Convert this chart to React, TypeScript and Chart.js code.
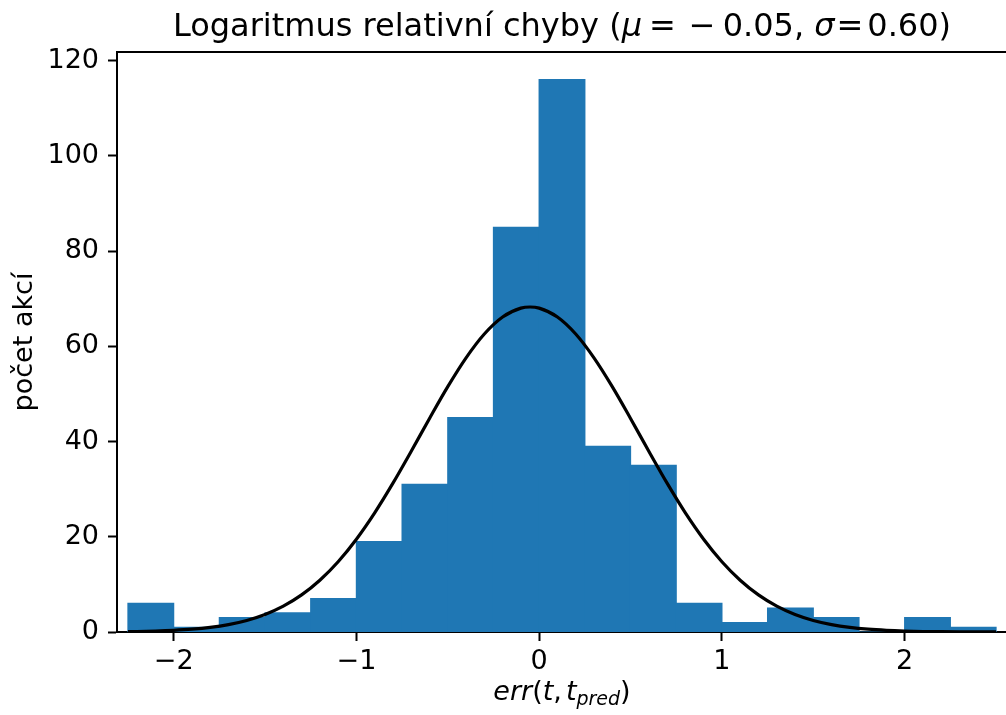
import React, { useEffect, useRef } from "react";
import { Chart, registerables } from "chart.js";

Chart.register(...registerables);

// Histogram bins (left edges) and counts
const BIN_LEFT = [-2.25, -2.0, -1.75, -1.5, -1.25, -1.0, -0.75, -0.5, -0.25, 0, 0.25, 0.5, 0.75, 1.0, 1.25, 1.5, 1.75, 2.0, 2.25];
const COUNTS = [6, 1, 3, 4, 7, 19, 31, 45, 85, 116, 39, 35, 6, 2, 5, 3, 0, 3, 1];
const BIN_WIDTH = 0.25;

// Fitted normal curve
const CURVE_X = [-2.25, -2.2, -2.1, -2.0, -1.9, -1.8, -1.7, -1.6, -1.5, -1.4, -1.3, -1.2, -1.1, -1.0, -0.9, -0.8, -0.7, -0.6, -0.5, -0.4, -0.3, -0.2, -0.1, -0.05, 0, 0.1, 0.2, 0.3, 0.4, 0.5, 0.6, 0.7, 0.8, 0.9, 1.0, 1.1, 1.2, 1.3, 1.4, 1.5, 1.6, 1.7, 1.8, 1.9, 2.0, 2.1, 2.2, 2.3, 2.4, 2.5];
const CURVE_Y = [0.08, 0.11, 0.2, 0.35, 0.59, 0.97, 1.56, 2.43, 3.68, 5.43, 7.79, 10.87, 14.76, 19.49, 25.02, 31.25, 37.95, 44.84, 51.52, 57.57, 62.58, 66.15, 68.01, 68.25, 68.01, 66.15, 62.58, 57.57, 51.52, 44.84, 37.95, 31.25, 25.02, 19.49, 14.76, 10.87, 7.79, 5.43, 3.68, 2.43, 1.56, 0.97, 0.59, 0.35, 0.2, 0.11, 0.06, 0.03, 0.02, 0.01];

const X_TICKS = [-2, -1, 0, 1, 2];
const X_TICK_LABELS = ["\u22122", "\u22121", "0", "1", "2"];
const Y_TICKS = [0, 20, 40, 60, 80, 100, 120];

const TITLE_PARTS = [
  { text: "Logaritmus relativní chyby (", italic: false, gap: 0 },
  { text: "μ", italic: true, gap: 0 },
  { text: "=", italic: false, gap: 7 },
  { text: "\u2212", italic: false, gap: 13 },
  { text: "0.05, ", italic: false, gap: 7 },
  { text: "σ", italic: true, gap: 0 },
  { text: "=", italic: false, gap: 2 },
  { text: "0.60)", italic: false, gap: 4 },
];
const Y_LABEL = "počet akcí";

const FONT = '"DejaVu Sans"';
const TICK_SIZE = 27;
const TITLE_SIZE = 32;
const LABEL_SIZE = 27;

type Seg = { text: string; size: number; italic?: boolean; dy?: number; gap?: number };

function drawSegs(ctx: CanvasRenderingContext2D, segs: Seg[], cx: number, baseline: number) {
  let total = 0;
  const widths: number[] = [];
  for (const s of segs) {
    ctx.font = `${s.italic ? "italic " : ""}${s.size}px ${FONT}`;
    const w = ctx.measureText(s.text).width;
    widths.push(w);
    total += w + (s.gap || 0);
  }
  let x = cx - total / 2;
  ctx.textAlign = "left";
  ctx.textBaseline = "alphabetic";
  segs.forEach((s, i) => {
    x += s.gap || 0;
    ctx.font = `${s.italic ? "italic " : ""}${s.size}px ${FONT}`;
    ctx.fillText(s.text, x, baseline + (s.dy || 0));
    x += widths[i];
  });
}

const framePlugin = {
  id: "frame",
  afterDraw(chart: any) {
    const { ctx, chartArea } = chart;
    const { left, right, top, bottom } = chartArea;
    ctx.save();
    ctx.strokeStyle = "#000";
    ctx.lineWidth = 2;
    ctx.beginPath();
    ctx.moveTo(left - 1, top);
    ctx.lineTo(right, top);
    ctx.lineTo(right, bottom);
    ctx.stroke();
    ctx.fillStyle = "#000";
    // title
    drawSegs(
      ctx,
      TITLE_PARTS.map((p) => ({ text: p.text, size: TITLE_SIZE, italic: p.italic, gap: p.gap })),
      (left + right) / 2,
      36
    );
    // x label
    drawSegs(
      ctx,
      [
        { text: "err", size: LABEL_SIZE, italic: true },
        { text: "(", size: LABEL_SIZE },
        { text: "t", size: LABEL_SIZE, italic: true },
        { text: ",", size: LABEL_SIZE },
        { text: "t", size: LABEL_SIZE, italic: true, gap: 4 },
        { text: "pred", size: 19, italic: true, dy: 5 },
        { text: ")", size: LABEL_SIZE },
      ],
      (left + right) / 2,
      700
    );
    // y label
    ctx.translate(32, (top + bottom) / 2);
    ctx.rotate(-Math.PI / 2);
    ctx.font = `${LABEL_SIZE}px ${FONT}`;
    ctx.textAlign = "center";
    ctx.textBaseline = "alphabetic";
    ctx.fillText(Y_LABEL, 0, 0);
    ctx.restore();
  },
};

export default function App() {
  const ref = useRef<HTMLCanvasElement | null>(null);

  useEffect(() => {
    const canvas = ref.current;
    if (!canvas) return;
    const chart = new Chart(canvas, {
      type: "bar",
      data: {
        datasets: [
          {
            type: "line",
            data: CURVE_X.map((x, i) => ({ x, y: CURVE_Y[i] })),
            borderColor: "#000000",
            borderWidth: 3.2,
            pointRadius: 0,
            cubicInterpolationMode: "monotone",
            fill: false,
            order: 0,
          } as any,
          {
            type: "bar",
            data: BIN_LEFT.map((l, i) => ({ x: l + BIN_WIDTH / 2, y: COUNTS[i] })),
            backgroundColor: "#1f77b4",
            borderWidth: 0,
            inflateAmount: 0.6,
            barPercentage: 1,
            categoryPercentage: 1,
            order: 1,
          } as any,
        ],
      },
      options: {
        animation: false,
        responsive: false,
        devicePixelRatio: 1,
        layout: { padding: { left: 0, right: 5, top: 52, bottom: 0 } },
        plugins: { legend: { display: false }, tooltip: { enabled: false }, title: { display: false } },
        scales: {
          x: {
            type: "linear",
            min: -2.31,
            max: 2.56,
            offset: false,
            grid: { display: true, offset: false, drawOnChartArea: false, drawTicks: true, tickLength: 9, tickWidth: 2, tickColor: "#000" },
            border: { display: true, color: "#000", width: 2 },
            ticks: {
              font: { family: "DejaVu Sans", size: TICK_SIZE },
              color: "#000",
              padding: 5,
              maxRotation: 0,
              autoSkip: false,
              callback: (v: any) => {
                const i = X_TICKS.indexOf(Number(v));
                return i >= 0 ? X_TICK_LABELS[i] : "";
              },
            },
            afterBuildTicks: (a: any) => {
              a.ticks = X_TICKS.map((v) => ({ value: v }));
            },
            afterFit: (a: any) => {
              a.height = 83;
            },
          },
          y: {
            type: "linear",
            min: 0,
            max: 121.8,
            grid: { display: true, drawOnChartArea: false, drawTicks: true, tickLength: 9, tickWidth: 2, tickColor: "#000" },
            border: { display: true, color: "#000", width: 2 },
            ticks: {
              font: { family: "DejaVu Sans", size: TICK_SIZE },
              color: "#000",
              padding: 9,
              autoSkip: false,
              callback: (v: any) => String(v),
            },
            afterBuildTicks: (a: any) => {
              a.ticks = Y_TICKS.map((v) => ({ value: v }));
            },
            afterFit: (a: any) => {
              a.width = 117;
            },
          },
        },
      } as any,
      plugins: [framePlugin],
    });
    return () => chart.destroy();
  }, []);

  return (
    <div
      style={{
        position: "fixed",
        left: 0,
        top: 0,
        width: 1006,
        height: 715,
        overflow: "hidden",
        background: "#fff",
      }}
    >
      <canvas ref={ref} width={1012} height={715} style={{ display: "block", width: 1012, height: 715 }} />
    </div>
  );
}
